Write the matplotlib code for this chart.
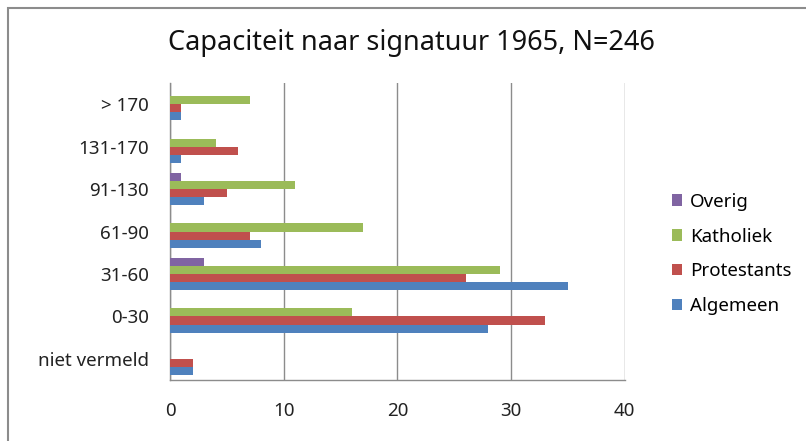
import numpy as np
import matplotlib.pyplot as plt
from matplotlib.patches import Rectangle

plt.rcParams['font.family'] = ['Noto Sans', 'DejaVu Sans']

# capaciteitsklassen, van onder naar boven
categories = ['niet vermeld', '0-30', '31-60', '61-90', '91-130', '131-170', '> 170']
algemeen = [2, 28, 35, 8, 3, 1, 1]
protestants = [2, 33, 26, 7, 5, 6, 1]
katholiek = [0, 16, 29, 17, 11, 4, 7]
overig = [0, 0, 3, 0, 1, 0, 0]

series = [('Algemeen', algemeen, '#4F81BD'),
          ('Protestants', protestants, '#C0504D'),
          ('Katholiek', katholiek, '#9BBB59'),
          ('Overig', overig, '#8064A2')]

fig = plt.figure(figsize=(8.06, 4.41), dpi=100)
ax = fig.add_axes([0.211, 0.138, 0.564, 0.674])

y = np.arange(len(categories))
h = 0.19
for i, (name, vals, col) in enumerate(series):
    ax.barh(y + (i - 1.5) * h, vals, height=h, color=col, label=name, zorder=3)

ax.set_xlim(0, 40)
ax.set_ylim(-0.5, len(categories) - 0.5)
ax.set_xticks([0, 10, 20, 30, 40])
ax.set_yticks(y)
ax.set_yticklabels(categories)
ax.tick_params(axis='both', length=0, labelsize=13.5, colors='#222222')
ax.tick_params(axis='x', pad=16)
ax.tick_params(axis='y', pad=15)
ax.grid(axis='x', color='#8c8c8c', linewidth=1, zorder=0)
for s in ['top', 'right']:
    ax.spines[s].set_visible(False)
for s in ['left', 'bottom']:
    ax.spines[s].set_color('#8c8c8c')
    ax.spines[s].set_linewidth(1)

fig.text(0.51, 0.902, 'Capaciteit naar signatuur 1965, N=246', ha='center',
         va='center', fontsize=19.5, color='#111111')

handles, labels = ax.get_legend_handles_labels()
leg = fig.legend(handles[::-1], labels[::-1], loc='center left',
                 bbox_to_anchor=(0.813, 0.424), frameon=False, fontsize=13.5,
                 handlelength=0.55, handleheight=0.55, handletextpad=0.4,
                 labelspacing=0.9)

# kader om de hele grafiek
fig.patches.append(Rectangle((0.01, -0.1), 1.2, 1.082, transform=fig.transFigure,
                             fill=False, edgecolor='#8c8c8c', linewidth=1.5))

fig.savefig('out.png', dpi=100)
